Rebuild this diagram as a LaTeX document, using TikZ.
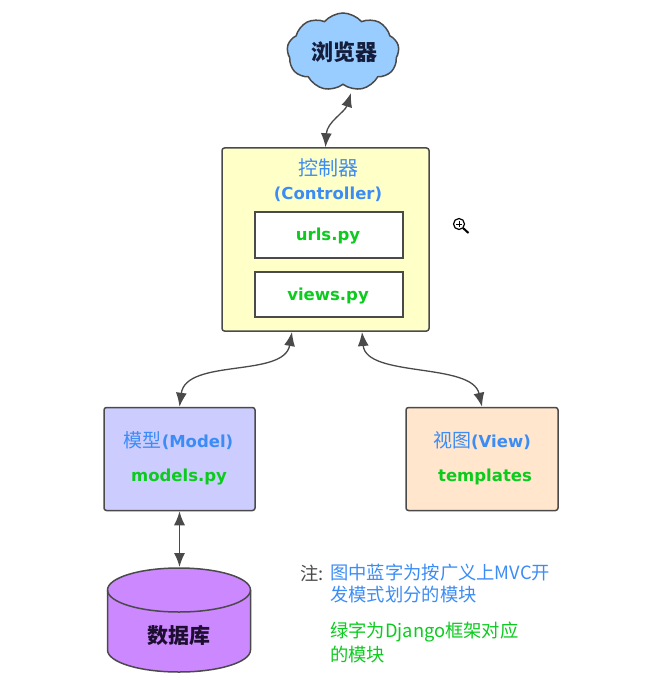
\documentclass[tikz,border=0pt]{standalone}
\usepackage{fontspec}
\usepackage{tikz}
\usetikzlibrary{shapes.symbols}
\usetikzlibrary{arrows.meta}
\newfontfamily\cjk{Noto Sans CJK SC}
\newfontfamily\latinfont{DejaVu Sans}
\definecolor{edgegray}{HTML}{4A4A4A}
\definecolor{bluetext}{HTML}{3C8CF5}
\definecolor{greentext}{HTML}{0CCB1E}
\tikzset{
        box/.style={draw=edgegray, line width=1.5pt, rounded corners=2.5pt, inner sep=0pt},
        link/.style={draw=edgegray, line width=1.3pt, {Latex[length=14pt,width=11pt]}-{Latex[length=14pt,width=11pt]}},
        bluelabel/.style={text=bluetext, inner sep=0pt, font=\fontsize{16.5}{20}\latinfont\bfseries},
        greenlabel/.style={text=greentext, inner sep=0pt, font=\fontsize{16.5}{20}\latinfont\bfseries},
        note/.style={anchor=west, inner sep=0pt, font=\fontsize{18.3}{20}\cjk}
}
\begin{document}
\begin{tikzpicture}[x=1pt, y=-1pt]
        \useasboundingbox (0, 0) rectangle (666, 684);
        % browser
        \node (browser) at (343, 52) [cloud, cloud puffs=9, cloud puff arc=100, aspect=1.5, draw=edgegray, line width=1.5pt, fill={rgb,255:red,153;green,204;blue,255}, minimum width=112pt, minimum height=78pt, inner sep=0pt] {};
        \node (browsertext) at (344, 52) [inner sep=0pt, font=\fontsize{22}{24}\cjk\bfseries, text={rgb,255:red,20;green,30;blue,60}] {浏览器};
        % controller
        \node (controller) at (325.5, 239.5) [box, fill={rgb,255:red,255;green,255;blue,200}, minimum width=207pt, minimum height=183pt] {};
        \node (controllername) at (328, 168) [bluelabel] {\fontsize{20}{22}\cjk\mdseries 控制器};
        \node (controllerword) at (328, 194) [bluelabel] {(Controller)};
        \node (urls) at (329, 235) [box, rounded corners=0pt, fill=white, minimum width=148pt, minimum height=46pt] {};
        \node (urlstext) at (328, 236) [greenlabel] {urls.py};
        \node (views) at (329, 294.5) [box, rounded corners=0pt, fill=white, minimum width=148pt, minimum height=45pt] {};
        \node (viewstext) at (328, 296) [greenlabel] {views.py};
        % model and view
        \node (model) at (179.5, 459) [box, fill={rgb,255:red,204;green,204;blue,255}, minimum width=151pt, minimum height=103pt] {};
        \node (modelname) at (178.5, 441) [bluelabel] {{\fontsize{19}{20}\cjk\mdseries 模型}(Model)};
        \node (modelfile) at (179, 477) [greenlabel] {models.py};
        \node (view) at (482, 459) [box, fill={rgb,255:red,255;green,230;blue,204}, minimum width=152pt, minimum height=103pt] {};
        \node (viewname) at (482, 441) [bluelabel] {{\fontsize{19}{20}\cjk\mdseries 视图}(View)};
        \node (viewfile) at (485, 477) [greenlabel] {templates};
        % database
        \draw [draw=edgegray, line width=1.5pt, fill={rgb,255:red,204;green,136;blue,255}] (107.5, 590) .. controls (107.5, 577.8) and (139.5, 568) .. (179, 568) .. controls (218.5, 568) and (250.5, 577.8) .. (250.5, 590) -- (250.5, 650) .. controls (250.5, 662.2) and (218.5, 672) .. (179, 672) .. controls (139.5, 672) and (107.5, 662.2) .. (107.5, 650) -- cycle;
        \draw [draw=edgegray, line width=1.5pt] (107.5, 590) .. controls (107.5, 602.2) and (139.5, 612) .. (179, 612) .. controls (218.5, 612) and (250.5, 602.2) .. (250.5, 590);
        \node (databasetext) at (178.5, 636) [inner sep=0pt, font=\fontsize{21}{24}\cjk\bfseries, text={rgb,255:red,30;green,15;blue,50}] {数据库};
        % notes
        \node (notemark) at (300, 573) [note, text=edgegray] {注:};
        \node (noteblueone) at (330, 573) [note, text=bluetext] {图中蓝字为按广义上MVC开};
        \node (notebluetwo) at (330, 595) [note, text=bluetext] {发模式划分的模块};
        \node (notegreenone) at (330, 632) [note, text=greentext] {绿字为Django框架对应};
        \node (notegreentwo) at (330, 655) [note, text=greentext] {的模块};
        % connector ends
        \coordinate (browserport) at (351, 93);
        \coordinate (modelport) at (292, 332);
        \coordinate (viewport) at (362, 332);
        \coordinate (databasetop) at (179.5, 567);
        % connectors
        \draw [link] (browserport) .. controls (345, 112) and (327, 122) .. (controller.north);
        \draw [link] (modelport) .. controls (284, 378) and (186, 358) .. (model.north);
        \draw [link] (viewport) .. controls (366, 378) and (472, 362) .. (view.north);
        \draw [link] (model.south) -- (databasetop);
        % cursor
        \draw [line width=1.2pt, black] (459, 224) circle (5.5);
        \draw [line width=0.8pt, black] (456, 224) -- (462, 224);
        \draw [line width=0.8pt, black] (459, 221) -- (459, 227);
        \draw [line width=2pt, black] (463, 228) -- (468.5, 233);
    \end{tikzpicture}
\end{document}
